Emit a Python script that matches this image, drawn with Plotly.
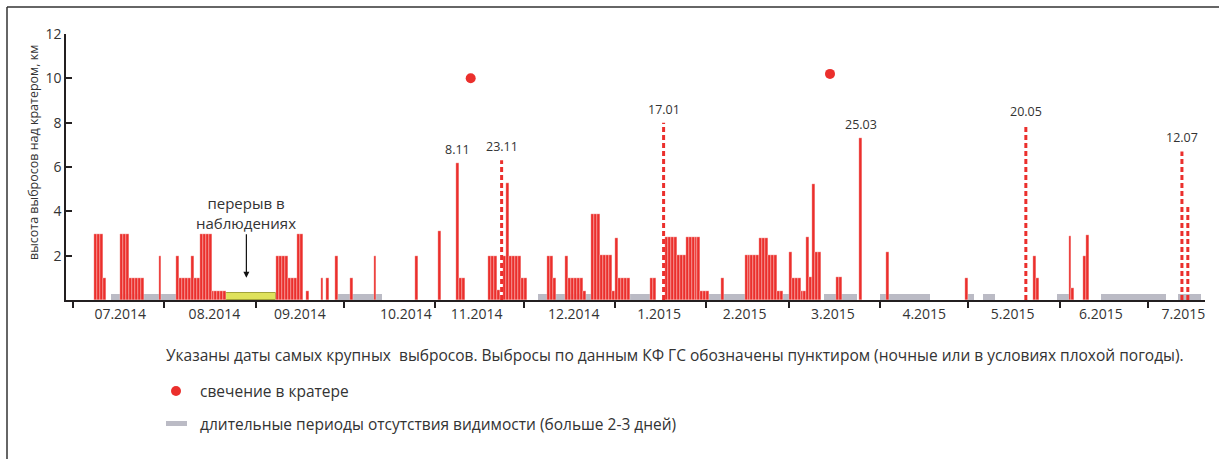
import plotly.graph_objects as go
import pandas as pd

# ---------------- data ----------------
bar_dates = [
    "2014-07-08", "2014-07-09", "2014-07-10", "2014-07-11",
    "2014-07-17", "2014-07-18", "2014-07-19", "2014-07-20", "2014-07-21", "2014-07-22", "2014-07-23", "2014-07-24",
    "2014-07-30",
    "2014-08-05", "2014-08-06", "2014-08-07", "2014-08-08", "2014-08-09", "2014-08-10", "2014-08-11", "2014-08-12",
    "2014-08-13", "2014-08-14", "2014-08-15", "2014-08-16", "2014-08-17", "2014-08-18", "2014-08-19", "2014-08-20",
    "2014-08-21",
    "2014-09-08", "2014-09-09", "2014-09-10", "2014-09-11", "2014-09-12", "2014-09-13", "2014-09-14", "2014-09-15",
    "2014-09-16", "2014-09-18", "2014-09-23", "2014-09-25", "2014-09-28",
    "2014-10-03", "2014-10-11", "2014-10-25",
    "2014-11-02", "2014-11-08", "2014-11-09", "2014-11-10", "2014-11-19", "2014-11-20", "2014-11-21", "2014-11-22",
    "2014-11-24", "2014-11-25", "2014-11-26", "2014-11-27", "2014-11-28", "2014-11-29", "2014-11-30",
    "2014-12-01", "2014-12-09", "2014-12-10", "2014-12-11", "2014-12-15", "2014-12-16", "2014-12-17", "2014-12-18",
    "2014-12-19", "2014-12-20", "2014-12-21", "2014-12-24", "2014-12-25", "2014-12-26", "2014-12-27", "2014-12-28",
    "2014-12-29", "2014-12-30", "2014-12-31",
    "2015-01-01", "2015-01-02", "2015-01-03", "2015-01-04", "2015-01-05", "2015-01-13", "2015-01-14",
    "2015-01-18", "2015-01-19", "2015-01-20", "2015-01-21", "2015-01-22", "2015-01-23", "2015-01-24",
    "2015-01-25", "2015-01-26", "2015-01-27", "2015-01-28", "2015-01-29", "2015-01-30", "2015-01-31",
    "2015-02-01", "2015-02-06", "2015-02-14", "2015-02-15", "2015-02-16", "2015-02-17", "2015-02-18",
    "2015-02-19", "2015-02-20", "2015-02-21", "2015-02-22", "2015-02-23", "2015-02-24", "2015-02-25", "2015-02-26",
    "2015-03-01", "2015-03-02", "2015-03-03", "2015-03-04", "2015-03-05", "2015-03-06", "2015-03-07", "2015-03-08",
    "2015-03-09", "2015-03-10", "2015-03-11", "2015-03-17", "2015-03-18", "2015-03-25",
    "2015-04-03", "2015-04-30",
    "2015-05-23", "2015-05-24",
    "2015-06-04", "2015-06-05", "2015-06-09", "2015-06-10",
]
bar_heights = [
    3.0, 3.0, 3.0, 1.0,
    3.0, 3.0, 3.0, 1.0, 1.0, 1.0, 1.0, 1.0,
    2.0,
    2.0, 1.0, 1.0, 1.0, 1.0, 2.0, 1.0, 1.0,
    3.0, 3.0, 3.0, 3.0, 0.4, 0.4, 0.4, 0.4,
    0.4,
    2.0, 2.0, 2.0, 2.0, 1.0, 1.0, 1.0, 3.0,
    3.0, 0.4, 1.0, 1.0, 2.0,
    1.0, 2.0, 2.0,
    3.1, 6.2, 1.0, 1.0, 2.0, 2.0, 2.0, 0.45,
    2.0, 5.3, 2.0, 2.0, 2.0, 2.0, 1.0,
    1.0, 2.0, 2.0, 1.0, 2.0, 1.0, 1.0, 1.0,
    1.0, 1.0, 0.4, 3.9, 3.9, 3.9, 2.05, 2.05,
    2.05, 2.05, 0.4,
    2.8, 1.0, 1.0, 1.0, 1.0, 1.0, 1.0,
    2.85, 2.85, 2.85, 2.85, 2.05, 2.05, 2.05,
    2.85, 2.85, 2.85, 2.85, 2.85, 0.4, 0.4,
    0.4, 1.0, 2.05, 2.05, 2.05, 2.05, 2.05,
    2.8, 2.8, 2.8, 2.05, 2.05, 2.05, 0.4, 0.4,
    2.15, 1.0, 1.0, 1.0, 0.4, 0.4, 2.85, 1.05,
    5.25, 2.15, 2.15, 1.05, 1.05, 7.3,
    2.15, 1.0,
    2.0, 1.0,
    2.9, 0.55, 2.0, 2.95,
]

# night / bad-weather eruptions (KB GS data), drawn dashed
dash_dates = ["2014-11-23", "2015-01-17", "2015-05-20", "2015-07-12", "2015-07-14"]
dash_heights = [6.3, 8.0, 7.9, 6.7, 4.25]

# dates of the biggest eruptions
label_dates = ["2014-11-08", "2014-11-23", "2015-01-17", "2015-03-25", "2015-05-20", "2015-07-12"]
label_texts = ["8.11", "23.11", "17.01", "25.03", "20.05", "12.07"]
label_heights = [6.2, 6.3, 8.0, 7.3, 7.9, 6.7]

# glow in the crater
glow_dates = ["2014-11-13", "2015-03-15"]
glow_heights = [10.0, 10.2]

# long periods without visibility
gray_start = ["2014-07-14", "2014-09-29", "2014-12-06", "2015-01-06", "2015-02-02", "2015-02-27", "2015-03-13",
              "2015-04-01", "2015-05-01", "2015-05-06", "2015-05-31", "2015-06-15", "2015-07-11"]
gray_end = ["2014-08-05", "2014-10-14", "2014-12-24", "2015-01-13", "2015-02-14", "2015-03-01", "2015-03-24",
            "2015-04-18", "2015-05-03", "2015-05-10", "2015-06-04", "2015-07-07", "2015-07-19"]
gray_level = 0.25

# break in observations
gap_start = "2014-08-22"
gap_end = "2014-09-08"
gap_level = 0.33

# axis ticks
month_starts = ["2014-07-01", "2014-08-01", "2014-09-01", "2014-10-01", "2014-11-01", "2014-12-01",
                "2015-01-01", "2015-02-01", "2015-03-01", "2015-04-01", "2015-05-01", "2015-06-01", "2015-07-01"]
month_label_pos = ["2014-07-17", "2014-08-18", "2014-09-16", "2014-10-22", "2014-11-15", "2014-12-18",
                   "2015-01-16", "2015-02-14", "2015-03-16", "2015-04-16", "2015-05-16", "2015-06-15", "2015-07-13"]
month_labels = ["07.2014", "08.2014", "09.2014", "10.2014", "11.2014", "12.2014",
                "1.2015", "2.2015", "3.2015", "4.2015", "5.2015", "6.2015", "7.2015"]
y_ticks = [2, 4, 6, 8, 10, 12]

# ---------------- style ----------------
RED = "#eb2f2c"
GRAY = "#bbbbc5"
INK = "#231f20"
TXT = "#333333"
FONT = "Open Sans"
DAY_MS = 86400000
HALF = pd.Timedelta(hours=12)

W, H = 1219, 459
PL, PR, PT, PB = 66, 1205, 34, 300


def px_x(px):
    return (px - PL) / (PR - PL)


def px_y(py):
    return (PB - py) / (PB - PT)


fig = go.Figure()

gs = pd.to_datetime(gray_start)
ge = pd.to_datetime(gray_end)
fig.add_trace(go.Bar(
    x=gs + (ge - gs) / 2, y=[gray_level] * len(gs),
    width=[(e - s).total_seconds() * 1000 for s, e in zip(gs, ge)],
    marker=dict(color=GRAY, line=dict(width=0)), hoverinfo="skip"))

ys, ye = pd.Timestamp(gap_start), pd.Timestamp(gap_end)
fig.add_trace(go.Bar(
    x=[ys + (ye - ys) / 2], y=[gap_level], width=[(ye - ys).total_seconds() * 1000],
    marker=dict(color="#dfe25c", line=dict(color="#a3a43a", width=1)), hoverinfo="skip"))

fig.add_trace(go.Bar(
    x=pd.to_datetime(bar_dates) + HALF, y=bar_heights, width=DAY_MS,
    marker=dict(color=RED, line=dict(color="white", width=0.3))))

dx, dy = [], []
for d, h in zip(pd.to_datetime(dash_dates) + HALF, dash_heights):
    dx += [d, d, None]
    dy += [0, h, None]
fig.add_trace(go.Scatter(x=dx, y=dy, mode="lines",
                         line=dict(color=RED, width=3, dash="5px,3px")))

fig.add_trace(go.Scatter(x=pd.to_datetime(glow_dates), y=glow_heights, mode="markers",
                         marker=dict(color=RED, size=10, line=dict(width=0))))

annotations = []
for d, t, h in zip(pd.to_datetime(label_dates) + HALF, label_texts, label_heights):
    annotations.append(dict(x=d, y=h, xref="x", yref="y", text=t, showarrow=False,
                            yanchor="bottom", yshift=3, font=dict(family=FONT, size=12.5, color=TXT)))

annotations.append(dict(x=pd.Timestamp("2014-08-28 20:00"), y=1.0, xref="x", yref="y",
                        text="перерыв в<br>наблюдениях", showarrow=True, ax=0, ay=-65,
                        arrowhead=2, arrowsize=1, arrowwidth=1.2, arrowcolor="#111111",
                        font=dict(family=FONT, size=15, color=TXT)))

annotations.append(dict(x=px_x(33), y=px_y(153), xref="paper", yref="paper", textangle=-90,
                        xanchor="center", yanchor="middle",
                        text="высота выбросов над кратером, км", showarrow=False,
                        font=dict(family=FONT, size=12.5, color=TXT)))

annotations.append(dict(x=px_x(164), y=px_y(355), xref="paper", yref="paper", xanchor="left", yanchor="middle",
                        text="Указаны даты самых крупных&nbsp; выбросов. Выбросы по данным КФ ГС обозначены пунктиром (ночные или в условиях плохой погоды).",
                        showarrow=False, font=dict(family=FONT, size=15.5, color=TXT)))
annotations.append(dict(x=px_x(198), y=px_y(391), xref="paper", yref="paper", xanchor="left", yanchor="middle",
                        text="свечение в кратере", showarrow=False,
                        font=dict(family=FONT, size=15.5, color=TXT)))
annotations.append(dict(x=px_x(198), y=px_y(424), xref="paper", yref="paper", xanchor="left", yanchor="middle",
                        text="длительные периоды отсутствия видимости (больше 2-3 дней)", showarrow=False,
                        font=dict(family=FONT, size=15.5, color=TXT)))

shapes = [
    dict(type="line", xref="paper", yref="paper", x0=px_x(7), x1=px_x(1219), y0=px_y(7), y1=px_y(7),
         line=dict(color="#333333", width=1.5)),
    dict(type="line", xref="paper", yref="paper", x0=px_x(7), x1=px_x(7), y0=px_y(7), y1=px_y(459),
         line=dict(color="#333333", width=1.5)),
    dict(type="circle", xref="paper", yref="paper", x0=px_x(171), x1=px_x(181), y0=px_y(396), y1=px_y(386),
         fillcolor=RED, line=dict(width=0)),
    dict(type="rect", xref="paper", yref="paper", x0=px_x(166), x1=px_x(187), y0=px_y(426), y1=px_y(421),
         fillcolor=GRAY, line=dict(width=0)),
]

fig.update_layout(
    width=W, height=H,
    margin=dict(l=PL, r=W - PR, t=PT, b=H - PB),
    paper_bgcolor="white", plot_bgcolor="white",
    barmode="overlay", bargap=0, showlegend=False,
    font=dict(family=FONT, color=INK),
    annotations=annotations, shapes=shapes,
    xaxis=dict(type="date", range=["2014-06-28 14:00", "2015-07-20 08:00"],
               tickvals=month_label_pos, ticktext=month_labels, ticks="",
               tickfont=dict(family=FONT, size=14, color=TXT),
               showline=True, linecolor=INK, linewidth=1.5, showgrid=False, zeroline=False,
               minor=dict(tickvals=month_starts, ticks="outside", ticklen=6, tickwidth=1.5,
                          tickcolor=INK, showgrid=False)),
    yaxis=dict(range=[0, 12], tickvals=y_ticks, ticks="inside", ticklen=6, tickwidth=1.5, tickcolor=INK,
               tickfont=dict(family=FONT, size=14, color=TXT),
               showline=True, linecolor=INK, linewidth=1.5, showgrid=False, zeroline=False),
)

fig.write_html("out.html", config={"displayModeBar": False},
               post_script="document.body.style.margin='0';document.body.style.overflow='hidden';")
